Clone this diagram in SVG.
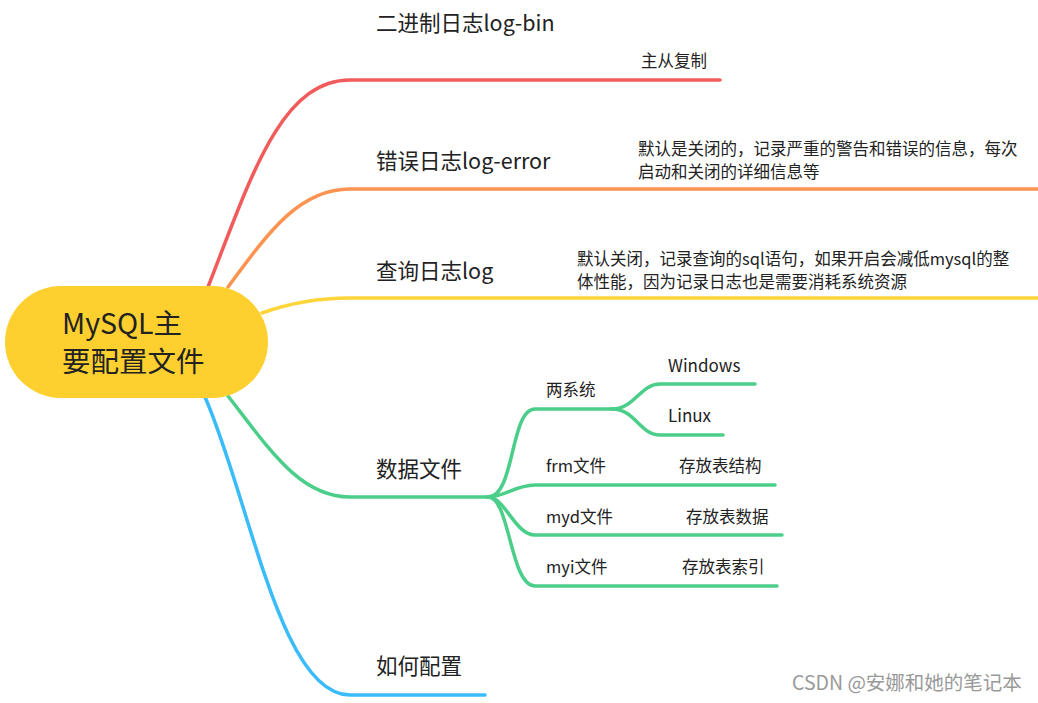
<svg xmlns="http://www.w3.org/2000/svg" width="1038" height="703" viewBox="0 0 1038 703">
<style>
text{font-family:"Noto Sans CJK SC","Noto Sans",sans-serif;fill:#222}
.m{font-size:21.5px}.s{font-size:16.5px}.t{font-size:17px}
path{fill:none;stroke-width:3.5;stroke-linecap:round}
.r{stroke:#f25b5b}.o{stroke:#fd9350}.y{stroke:#fdd53a}.g{stroke:#4bce8a}.b{stroke:#3bbcfa}
</style>
<rect width="1038" height="703" fill="#fff"/>
<g id="connectors">
<path class="r" d="M208 287 C250 180 280 80 350 80 L720 80"/>
<path class="o" d="M228 287 C270 230 300 189 350 189 L1038 189"/>
<path class="y" d="M262 313 C290 303 320 298 350 298 L1038 298"/>
<path class="g" d="M228 396 C270 450 300 497 350 497 L488 497"/>
<path class="b" d="M205 397 C250 500 280 695 350 695 L485 695"/>
<path class="g" d="M488 497 C515 497 510 409 535 409 L612 409"/>
<path class="g" d="M612 409 C635 409 640 384 660 384 L755 384"/>
<path class="g" d="M612 409 C635 409 640 435 660 435 L723 435"/>
<path class="g" d="M488 497 C505 497 515 485 535 485 L775 485"/>
<path class="g" d="M488 497 C505 497 515 535 535 535 L782 535"/>
<path class="g" d="M488 497 C510 497 510 586 535 586 L777 586"/>
</g>
<g id="root"><rect x="5" y="286" width="263" height="112" rx="56" fill="#fdd02f"/>
<text x="62" y="334" style="font-size:28.5px">MySQL主</text><text x="62" y="372" style="font-size:28.5px">要配置文件</text></g>
<g id="n1"><text class="m" x="376" y="31">二进制日志log-bin</text></g>
<g id="n1a"><text class="s" x="641" y="67">主从复制</text></g>
<g id="n2"><text class="m" x="376" y="169">错误日志log-error</text></g>
<g id="n2a"><text class="s" x="638" y="155">默认是关闭的，记录严重的警告和错误的信息，每次</text><text class="s" x="638" y="178">启动和关闭的详细信息等</text></g>
<g id="n3"><text class="m" x="376" y="279">查询日志log</text></g>
<g id="n3a"><text class="s" x="577" y="265">默认关闭，记录查询的sql语句，如果开启会减低mysql的整</text><text class="s" x="577" y="288">体性能，因为记录日志也是需要消耗系统资源</text></g>
<g id="n4"><text class="m" x="376" y="477">数据文件</text></g>
<g id="n4a"><text class="s" x="546" y="396">两系统</text></g>
<g id="n4a1"><text class="t" x="668" y="372">Windows</text></g>
<g id="n4a2"><text class="t" x="668" y="422">Linux</text></g>
<g id="n4b"><text class="s" x="546" y="472">frm文件</text><text class="s" x="679" y="472">存放表结构</text></g>
<g id="n4c"><text class="s" x="546" y="523">myd文件</text><text class="s" x="686" y="523">存放表数据</text></g>
<g id="n4d"><text class="s" x="546" y="573">myi文件</text><text class="s" x="682" y="573">存放表索引</text></g>
<g id="n5"><text class="m" x="376" y="674">如何配置</text></g>
<text x="792" y="690" style="font-size:19.5px;fill:#999">CSDN @安娜和她的笔记本</text>
</svg>
